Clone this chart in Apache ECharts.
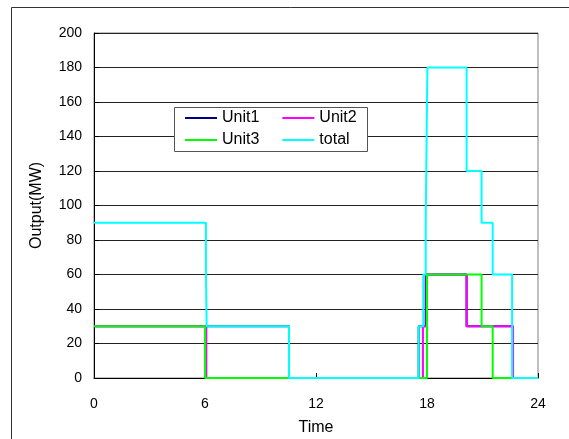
<!DOCTYPE html>
<html>
<head>
<meta charset="utf-8">
<script src="https://cdn.jsdelivr.net/npm/echarts@6/dist/echarts.min.js"></script>
<style>
  html, body { margin: 0; padding: 0; background: #fff; }
  #main { width: 569px; height: 439px; }
</style>
</head>
<body>
<div id="main"></div>
<script>
// step data: level holds from time[i] until time[i+1]
var unit1Times  = [0, 10.54, 17.55, 17.93, 20.14, 22.65, 24];
var unit1Levels = [30, 0, 30, 60, 30, 0, 0];
var unit2Times  = [0, 6.07, 17.78, 17.97, 20.14, 22.65, 24];
var unit2Levels = [30, 0, 30, 60, 30, 0, 0];
var unit3Times  = [0, 6.0, 18.0, 20.95, 21.55, 24];
var unit3Levels = [30, 0, 60, 30, 0, 0];
var totalTimes  = [0, 6.05, 6.09, 10.54, 17.55, 17.8, 17.93, 18.02, 20.14, 20.95, 21.55, 22.6, 24];
var totalLevels = [90, 60, 30, 0, 30, 60, 90, 180, 120, 90, 60, 0, 0];

var seriesNames = ['Unit1', 'Unit2', 'Unit3', 'total'];
var seriesColors = ['#000080', '#ff00ff', '#00ff00', '#00ffff'];

function pairs(t, v) {
  return t.map(function (x, i) { return [x, v[i]]; });
}
var allData = [
  pairs(unit1Times, unit1Levels),
  pairs(unit2Times, unit2Levels),
  pairs(unit3Times, unit3Levels),
  pairs(totalTimes, totalLevels)
];

var myChart = echarts.init(document.getElementById('main'), null, { renderer: 'canvas' });

var font = 'Liberation Sans, Arial, sans-serif';

// legend is two rows, one legend per row, with a box drawn behind
function legendRow(names, top) {
  return {
    left: 185, top: top,
    orient: 'horizontal',
    padding: 0,
    itemWidth: 32, itemHeight: 14, itemGap: 23,
    icon: 'path://M0,6 L32,6 L32,8 L0,8 Z',
    textStyle: { fontFamily: font, fontSize: 16, color: '#000' },
    data: names
  };
}

var option = {
  animation: false,
  backgroundColor: '#fff',
  graphic: [{
    type: 'rect',
    shape: { x: 11.5, y: 7.5, width: 600, height: 460 },
    style: { fill: 'none', stroke: '#333', lineWidth: 1 },
    z: 0
  }, {
    type: 'rect',
    shape: { x: 174.5, y: 107.5, width: 193, height: 44 },
    style: { fill: '#fff', stroke: '#555', lineWidth: 1 },
    z: 3
  }],
  grid: {
    left: 94, right: 31, top: 33, bottom: 61,
    outerBoundsMode: 'none',
    show: true, borderColor: '#808080', borderWidth: 1, backgroundColor: '#fff'
  },
  legend: [
    legendRow(['Unit1', 'Unit2'], 110),
    legendRow(['Unit3', 'total'], 132)
  ],
  xAxis: {
    type: 'value', min: 0, max: 24, interval: 6,
    name: 'Time', nameLocation: 'middle', nameGap: 42,
    nameTextStyle: { fontFamily: font, fontSize: 16, color: '#000' },
    axisLine: { show: true, onZero: false, lineStyle: { color: '#000', width: 1 } },
    axisTick: { show: true, inside: true, length: 5, lineStyle: { color: '#000' } },
    axisLabel: { fontFamily: font, fontSize: 14, color: '#000', margin: 19 },
    splitLine: { show: false }
  },
  yAxis: {
    type: 'value', min: 0, max: 200, interval: 20,
    name: 'Output(MW)', nameLocation: 'middle', nameGap: 49,
    nameTextStyle: { fontFamily: font, fontSize: 16, color: '#000' },
    axisLine: { show: true, lineStyle: { color: '#000', width: 1 } },
    axisTick: { show: true, inside: true, length: 5, lineStyle: { color: '#000' } },
    axisLabel: { fontFamily: font, fontSize: 14, color: '#000', margin: 12 },
    splitLine: { show: true, lineStyle: { color: '#222', width: 1 } }
  },
  series: seriesNames.map(function (name, i) {
    return {
      name: name,
      type: 'line',
      step: 'end',
      showSymbol: false,
      symbol: 'none',
      color: seriesColors[i],
      lineStyle: { color: seriesColors[i], width: 2 },
      data: allData[i]
    };
  })
};

myChart.setOption(option);
</script>
</body>
</html>
